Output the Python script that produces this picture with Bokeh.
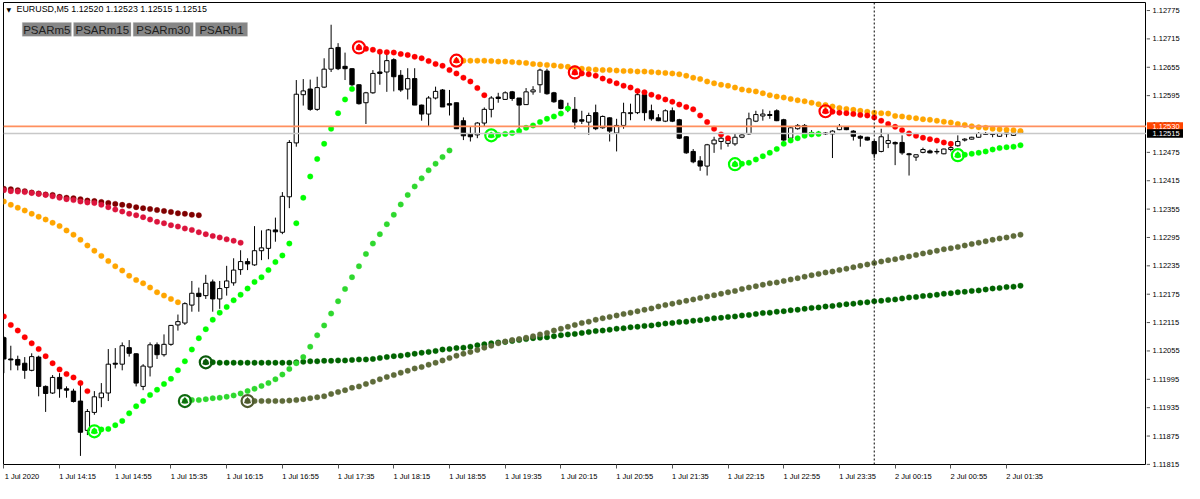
from bokeh.plotting import figure
from bokeh.layouts import row
from bokeh.models import (Range1d, FixedTicker, Span, Label,
                          BoxAnnotation, ColumnDataSource, LinearAxis)
from bokeh.core.properties import value
from bokeh.embed import file_html
from bokeh.resources import INLINE

# ---------------- data (EURUSD M5, bars from 1 Jul 13:35) ----------------
open_ = [1.12083, 1.12038, 1.12037, 1.12029, 1.12014, 1.12042, 1.11980, 1.11966, 1.11999, 1.11975,
 1.11970, 1.11949, 1.11887, 1.11925, 1.11956, 1.11966, 1.12029, 1.12027, 1.12062, 1.12049,
 1.11980, 1.12021, 1.12068, 1.12047, 1.12069, 1.12110, 1.12114, 1.12152, 1.12177, 1.12172,
 1.12201, 1.12165, 1.12189, 1.12199, 1.12227, 1.12244, 1.12237, 1.12267, 1.12272, 1.12311,
 1.12306, 1.12381, 1.12495, 1.12597, 1.12609, 1.12566, 1.12613, 1.12651, 1.12697, 1.12657,
 1.12652, 1.12618, 1.12580, 1.12601, 1.12645, 1.12645, 1.12671, 1.12638, 1.12609, 1.12631,
 1.12575, 1.12556, 1.12590, 1.12607, 1.12578, 1.12580, 1.12542, 1.12514, 1.12512, 1.12537,
 1.12566, 1.12592, 1.12587, 1.12603, 1.12590, 1.12576, 1.12603, 1.12618, 1.12647, 1.12601,
 1.12585, 1.12568, 1.12566, 1.12544, 1.12539, 1.12559, 1.12527, 1.12548, 1.12516, 1.12532,
 1.12557, 1.12559, 1.12597, 1.12563, 1.12548, 1.12541, 1.12563, 1.12544, 1.12508, 1.12477,
 1.12457, 1.12446, 1.12493, 1.12498, 1.12494, 1.12493, 1.12507, 1.12514, 1.12541, 1.12552,
 1.12555, 1.12563, 1.12544, 1.12505, 1.12525, 1.12532, 1.12517, 1.12516, 1.12516, 1.12514,
 1.12523, 1.12529, 1.12520, 1.12509, 1.12507, 1.12498, 1.12477, 1.12494, 1.12496, 1.12496,
 1.12472, 1.12465, 1.12475, 1.12478, 1.12477, 1.12472, 1.12481, 1.12489, 1.12501, 1.12503,
 1.12507, 1.12515, 1.12514, 1.12509, 1.12516, 1.12511, 1.12520]

high = [1.12086, 1.12066, 1.12045, 1.12042, 1.12050, 1.12045, 1.11982, 1.12004, 1.12008, 1.11980,
 1.11975, 1.11990, 1.11932, 1.11970, 1.11987, 1.12059, 1.12061, 1.12073, 1.12078, 1.12050,
 1.12027, 1.12073, 1.12073, 1.12090, 1.12110, 1.12132, 1.12158, 1.12203, 1.12189, 1.12216,
 1.12206, 1.12203, 1.12235, 1.12251, 1.12268, 1.12251, 1.12319, 1.12310, 1.12313, 1.12337,
 1.12391, 1.12501, 1.12628, 1.12630, 1.12629, 1.12635, 1.12674, 1.12745, 1.12706, 1.12686,
 1.12653, 1.12619, 1.12603, 1.12649, 1.12686, 1.12683, 1.12674, 1.12649, 1.12653, 1.12653,
 1.12576, 1.12594, 1.12614, 1.12609, 1.12607, 1.12580, 1.12549, 1.12529, 1.12539, 1.12570,
 1.12594, 1.12601, 1.12604, 1.12605, 1.12590, 1.12611, 1.12615, 1.12652, 1.12652, 1.12603,
 1.12587, 1.12580, 1.12592, 1.12563, 1.12559, 1.12576, 1.12553, 1.12549, 1.12546, 1.12580,
 1.12578, 1.12604, 1.12599, 1.12576, 1.12556, 1.12566, 1.12570, 1.12546, 1.12509, 1.12482,
 1.12467, 1.12493, 1.12508, 1.12515, 1.12508, 1.12514, 1.12515, 1.12559, 1.12563, 1.12566,
 1.12563, 1.12566, 1.12546, 1.12530, 1.12535, 1.12535, 1.12522, 1.12520, 1.12518, 1.12522,
 1.12535, 1.12530, 1.12522, 1.12511, 1.12508, 1.12501, 1.12525, 1.12514, 1.12498, 1.12511,
 1.12474, 1.12470, 1.12485, 1.12481, 1.12483, 1.12483, 1.12489, 1.12511, 1.12505, 1.12508,
 1.12518, 1.12518, 1.12514, 1.12516, 1.12516, 1.12518, 1.12523]

low = [1.12008, 1.12014, 1.12014, 1.11996, 1.12012, 1.11959, 1.11926, 1.11964, 1.11956, 1.11956,
 1.11946, 1.11833, 1.11877, 1.11920, 1.11936, 1.11949, 1.12018, 1.12014, 1.12043, 1.11980,
 1.11972, 1.12001, 1.12038, 1.12043, 1.12066, 1.12098, 1.12110, 1.12138, 1.12138, 1.12165,
 1.12138, 1.12144, 1.12172, 1.12193, 1.12216, 1.12226, 1.12235, 1.12247, 1.12249, 1.12286,
 1.12302, 1.12357, 1.12487, 1.12574, 1.12563, 1.12563, 1.12611, 1.12645, 1.12649, 1.12628,
 1.12615, 1.12576, 1.12535, 1.12599, 1.12618, 1.12603, 1.12604, 1.12603, 1.12587, 1.12575,
 1.12542, 1.12530, 1.12587, 1.12571, 1.12553, 1.12525, 1.12501, 1.12498, 1.12505, 1.12529,
 1.12549, 1.12580, 1.12586, 1.12584, 1.12518, 1.12576, 1.12597, 1.12601, 1.12597, 1.12580,
 1.12566, 1.12560, 1.12525, 1.12535, 1.12512, 1.12522, 1.12525, 1.12498, 1.12477, 1.12525,
 1.12543, 1.12556, 1.12542, 1.12542, 1.12541, 1.12539, 1.12539, 1.12503, 1.12472, 1.12452,
 1.12436, 1.12426, 1.12474, 1.12481, 1.12487, 1.12489, 1.12505, 1.12512, 1.12539, 1.12542,
 1.12546, 1.12541, 1.12498, 1.12501, 1.12523, 1.12508, 1.12510, 1.12510, 1.12512, 1.12463,
 1.12522, 1.12522, 1.12500, 1.12487, 1.12500, 1.12463, 1.12475, 1.12484, 1.12448, 1.12470,
 1.12426, 1.12457, 1.12473, 1.12473, 1.12471, 1.12471, 1.12477, 1.12487, 1.12498, 1.12502,
 1.12506, 1.12512, 1.12507, 1.12508, 1.12507, 1.12510, 1.12515]

close = [1.12038, 1.12036, 1.12025, 1.12014, 1.12043, 1.11980, 1.11965, 1.11999, 1.11975, 1.11972,
 1.11948, 1.11883, 1.11927, 1.11958, 1.11966, 1.12027, 1.12027, 1.12066, 1.12050, 1.11987,
 1.12023, 1.12068, 1.12047, 1.12069, 1.12109, 1.12117, 1.12155, 1.12177, 1.12170, 1.12198,
 1.12165, 1.12187, 1.12203, 1.12226, 1.12244, 1.12239, 1.12267, 1.12273, 1.12311, 1.12307,
 1.12382, 1.12496, 1.12598, 1.12605, 1.12566, 1.12612, 1.12651, 1.12695, 1.12652, 1.12652,
 1.12618, 1.12578, 1.12601, 1.12642, 1.12642, 1.12669, 1.12635, 1.12607, 1.12631, 1.12575,
 1.12556, 1.12590, 1.12604, 1.12571, 1.12575, 1.12525, 1.12510, 1.12508, 1.12537, 1.12566,
 1.12590, 1.12589, 1.12601, 1.12589, 1.12575, 1.12603, 1.12607, 1.12649, 1.12599, 1.12582,
 1.12568, 1.12570, 1.12539, 1.12541, 1.12553, 1.12525, 1.12551, 1.12520, 1.12532, 1.12559,
 1.12559, 1.12597, 1.12559, 1.12546, 1.12542, 1.12563, 1.12541, 1.12505, 1.12474, 1.12455,
 1.12446, 1.12491, 1.12501, 1.12505, 1.12500, 1.12507, 1.12512, 1.12546, 1.12555, 1.12556,
 1.12553, 1.12542, 1.12501, 1.12527, 1.12532, 1.12512, 1.12514, 1.12514, 1.12514, 1.12520,
 1.12530, 1.12523, 1.12509, 1.12505, 1.12501, 1.12472, 1.12508, 1.12500, 1.12493, 1.12474,
 1.12470, 1.12470, 1.12481, 1.12474, 1.12476, 1.12482, 1.12485, 1.12498, 1.12503, 1.12507,
 1.12515, 1.12513, 1.12513, 1.12515, 1.12514, 1.12516, 1.12515]

# Parabolic SAR values (one dot per M5 bar) and trend runs
psar_m5 = [1.12128, 1.12110, 1.12098, 1.12084, 1.12071, 1.12059, 1.12044, 1.12029, 1.12016, 1.12006, 1.11999, 1.11987, 1.11970,
 1.11885, 1.11889, 1.11890, 1.11898, 1.11907, 1.11923, 1.11938, 1.11949, 1.11962, 1.11973, 1.11985, 1.11996, 1.12014, 1.12033,
 1.12058, 1.12082, 1.12101, 1.12121, 1.12136, 1.12148, 1.12162, 1.12174, 1.12187, 1.12201, 1.12211, 1.12226, 1.12243, 1.12257,
 1.12282, 1.12325, 1.12379, 1.12424, 1.12461, 1.12493, 1.12525, 1.12558, 1.12587, 1.12609,
 1.12697, 1.12694, 1.12692, 1.12688, 1.12687, 1.12686, 1.12683, 1.12681, 1.12677, 1.12674, 1.12668, 1.12662, 1.12658, 1.12649,
 1.12642, 1.12633, 1.12625, 1.12611, 1.12596,
 1.12511, 1.12512, 1.12514, 1.12516, 1.12520, 1.12527, 1.12532, 1.12539, 1.12546, 1.12551, 1.12557, 1.12568,
 1.12644, 1.12642, 1.12640, 1.12637, 1.12631, 1.12626, 1.12621, 1.12616, 1.12612, 1.12605, 1.12602, 1.12597, 1.12592, 1.12587,
 1.12582, 1.12576, 1.12571, 1.12566, 1.12553, 1.12539, 1.12525, 1.12513, 1.12505,
 1.12450, 1.12451, 1.12453, 1.12460, 1.12467, 1.12474, 1.12482, 1.12493, 1.12500, 1.12505, 1.12510, 1.12513, 1.12514,
 1.12562, 1.12561, 1.12559, 1.12558, 1.12556, 1.12554, 1.12553, 1.12549, 1.12542, 1.12535, 1.12529, 1.12522, 1.12515, 1.12510,
 1.12506, 1.12503, 1.12500, 1.12496, 1.12493,
 1.12469, 1.12470, 1.12472, 1.12474, 1.12477, 1.12481, 1.12484, 1.12486, 1.12487, 1.12490]
runs_m5 = [("down", 13), ("up", 38), ("down", 19), ("up", 12), ("down", 23), ("up", 13), ("down", 19), ("up", 10)]

psar_m15 = [1.12371, 1.12364, 1.12358, 1.12352, 1.12345, 1.12339, 1.12333, 1.12326, 1.12319, 1.12310, 1.12301, 1.12290, 1.12278,
 1.12267, 1.12256, 1.12245, 1.12234, 1.12225, 1.12214, 1.12205, 1.12198, 1.12189, 1.12179, 1.12172, 1.12165, 1.12158,
 1.11949, 1.11951, 1.11951, 1.11953, 1.11955, 1.11956, 1.11958, 1.11961, 1.11965, 1.11970, 1.11975, 1.11981, 1.11987, 1.11995,
 1.12005, 1.12017, 1.12029, 1.12042, 1.12064, 1.12088, 1.12109, 1.12134, 1.12160, 1.12186, 1.12211, 1.12234, 1.12260, 1.12282,
 1.12302, 1.12323, 1.12343, 1.12365, 1.12385, 1.12403, 1.12420, 1.12437, 1.12451, 1.12465, 1.12479,
 1.12669, 1.12669, 1.12669, 1.12669, 1.12669, 1.12668, 1.12667, 1.12667, 1.12666, 1.12665, 1.12664, 1.12662, 1.12661, 1.12660,
 1.12659, 1.12657, 1.12656, 1.12653, 1.12652, 1.12651, 1.12650, 1.12649, 1.12649, 1.12648, 1.12647, 1.12647, 1.12646, 1.12646,
 1.12645, 1.12644, 1.12643, 1.12642, 1.12640, 1.12637, 1.12633, 1.12630, 1.12625, 1.12621, 1.12618, 1.12616, 1.12612, 1.12608,
 1.12606, 1.12604, 1.12600, 1.12596, 1.12593, 1.12591, 1.12588, 1.12585, 1.12583, 1.12580, 1.12577, 1.12575, 1.12572, 1.12569,
 1.12567, 1.12565, 1.12563, 1.12561, 1.12559, 1.12558, 1.12557, 1.12552, 1.12551, 1.12549, 1.12547, 1.12545, 1.12544, 1.12542,
 1.12540, 1.12538, 1.12535, 1.12533, 1.12530, 1.12528, 1.12527, 1.12525, 1.12524, 1.12523, 1.12522, 1.12520]
runs_m15 = [("down", 26), ("up", 39), ("down", 82)]

psar_m30 = [1.12395, 1.12393, 1.12392, 1.12391, 1.12389, 1.12387, 1.12385, 1.12382, 1.12379, 1.12376, 1.12374, 1.12371, 1.12369,
 1.12368, 1.12364, 1.12359, 1.12354, 1.12350, 1.12345, 1.12342, 1.12338, 1.12333, 1.12328, 1.12325, 1.12321, 1.12318, 1.12314,
 1.12311, 1.12306, 1.12302, 1.12298, 1.12295, 1.12291, 1.12288, 1.12284,
 1.11949, 1.11949, 1.11949, 1.11949, 1.11949, 1.11949, 1.11950, 1.11951, 1.11953, 1.11955, 1.11957, 1.11959, 1.11964, 1.11968,
 1.11972, 1.11977, 1.11980, 1.11985, 1.11990, 1.11995, 1.12000, 1.12004, 1.12009, 1.12013, 1.12018, 1.12021, 1.12026, 1.12030,
 1.12035, 1.12040, 1.12045, 1.12049, 1.12053, 1.12057, 1.12062, 1.12066, 1.12071, 1.12075, 1.12078, 1.12080, 1.12083, 1.12086,
 1.12090, 1.12093, 1.12098, 1.12102, 1.12106, 1.12110, 1.12114, 1.12117, 1.12121,
 1.12124, 1.12127, 1.12130, 1.12133, 1.12136, 1.12139, 1.12142, 1.12145, 1.12149, 1.12152, 1.12155, 1.12158, 1.12161, 1.12164,
 1.12167, 1.12170, 1.12173, 1.12176, 1.12179, 1.12182, 1.12186, 1.12189, 1.12192, 1.12195, 1.12198, 1.12200, 1.12203, 1.12206,
 1.12209, 1.12212, 1.12215, 1.12218, 1.12221, 1.12223, 1.12226, 1.12229, 1.12232, 1.12235, 1.12238, 1.12241, 1.12244, 1.12247,
 1.12249, 1.12252, 1.12255, 1.12258, 1.12261, 1.12264, 1.12267, 1.12270, 1.12272, 1.12275, 1.12278, 1.12281, 1.12284, 1.12287,
 1.12290, 1.12293, 1.12295, 1.12298, 1.12301]
runs_m30 = [("down", 35), ("up", 112)]

psar_h1 = [1.12398, 1.12397, 1.12395, 1.12393, 1.12390, 1.12388, 1.12386, 1.12385, 1.12381, 1.12379, 1.12378, 1.12376, 1.12373,
 1.12372, 1.12370, 1.12368, 1.12366, 1.12364, 1.12362, 1.12359, 1.12357, 1.12355, 1.12353, 1.12351, 1.12349, 1.12346, 1.12345,
 1.12343, 1.12342,
 1.12031, 1.12031, 1.12030, 1.12030, 1.12030, 1.12030, 1.12030, 1.12030, 1.12030, 1.12030, 1.12030, 1.12030, 1.12030,
 1.12031, 1.12032, 1.12033, 1.12033, 1.12034, 1.12034, 1.12035, 1.12035, 1.12036, 1.12037, 1.12037, 1.12038, 1.12040, 1.12042,
 1.12044, 1.12045, 1.12047, 1.12049, 1.12051, 1.12053, 1.12055, 1.12058, 1.12059, 1.12061, 1.12062, 1.12064, 1.12067, 1.12069,
 1.12071, 1.12073, 1.12074, 1.12076, 1.12078, 1.12080, 1.12082, 1.12083, 1.12084, 1.12086, 1.12088, 1.12090, 1.12091, 1.12093,
 1.12095, 1.12097,
 1.12098, 1.12100, 1.12102, 1.12103, 1.12105, 1.12106, 1.12108, 1.12109, 1.12111, 1.12113, 1.12114, 1.12116, 1.12117, 1.12119,
 1.12120, 1.12122, 1.12124, 1.12125, 1.12127, 1.12128, 1.12130, 1.12131, 1.12133, 1.12135, 1.12136, 1.12138, 1.12139, 1.12141,
 1.12142, 1.12144, 1.12146, 1.12147, 1.12149, 1.12150, 1.12152, 1.12154, 1.12155, 1.12157, 1.12158, 1.12160, 1.12161, 1.12163,
 1.12164, 1.12166, 1.12168, 1.12169, 1.12171, 1.12172, 1.12174, 1.12176, 1.12177, 1.12179, 1.12180, 1.12182, 1.12183, 1.12185,
 1.12187, 1.12188, 1.12190, 1.12191, 1.12193]
runs_h1 = [("down", 29), ("up", 118)]

tick_bars = [0, 8, 16, 24, 32, 40, 48, 56, 64, 72, 80, 88, 96, 104, 112, 120, 128, 136, 144]
tick_labels = ["1 Jul 2020", "1 Jul 14:15", "1 Jul 14:55", "1 Jul 15:35", "1 Jul 16:15", "1 Jul 16:55",
               "1 Jul 17:35", "1 Jul 18:15", "1 Jul 18:55", "1 Jul 19:35", "1 Jul 20:15", "1 Jul 20:55",
               "1 Jul 21:35", "1 Jul 22:15", "1 Jul 22:55", "1 Jul 23:35", "2 Jul 00:15", "2 Jul 00:55",
               "2 Jul 01:35"]
price_ticks = [1.11815, 1.11875, 1.11935, 1.11995, 1.12055, 1.12115, 1.12175, 1.12235, 1.12295,
               1.12355, 1.12415, 1.12475, 1.12535, 1.12595, 1.12655, 1.12715, 1.12775]
day_break_bar = 125
ask, bid = 1.12530, 1.12515
header = "EURUSD,M5  1.12520 1.12523 1.12515 1.12515"
buttons = ["PSARm5", "PSARm15", "PSARm30", "PSARh1"]

# ---------------- main chart ----------------
FW, FH = 1143, 462
X0, X1 = -0.05, 164.1
Y0, Y1 = 1.118148, 1.12792
LABEL_SHIFT = 2.6
AX_FONT = "Liberation Sans"

p = figure(frame_width=FW, frame_height=FH,
           x_range=Range1d(X0, X1), y_range=Range1d(Y0, Y1),
           output_backend="svg", toolbar_location=None,
           x_axis_location=None, y_axis_location=None,
           min_border_left=3, min_border_top=2, min_border_right=0, min_border_bottom=0,
           background_fill_color="white", border_fill_color="white")
p.grid.visible = False
p.outline_line_color = "black"
p.outline_line_width = 1

# time axis: labels start at their tick (MT4 style); tick marks drawn as minor ticks
p.extra_x_ranges = {"lab": Range1d(X0 - LABEL_SHIFT, X1 - LABEL_SHIFT)}
la = LinearAxis(x_range_name="lab",
                ticker=FixedTicker(ticks=tick_bars,
                                   minor_ticks=[t - LABEL_SHIFT for t in tick_bars]),
                major_label_overrides={t: s for t, s in zip(tick_bars, tick_labels)})
la.major_label_text_font = AX_FONT
la.major_label_text_font_size = "7.5px"
la.major_label_text_color = "black"
la.major_label_standoff = 3
la.major_tick_out = 0
la.major_tick_in = 0
la.minor_tick_out = 4
la.minor_tick_in = 0
la.minor_tick_line_color = "#555555"
la.axis_line_color = None
p.add_layout(la, "below")

# price lines and day separator
p.add_layout(Span(location=bid, dimension="width", line_color="#C8C8C8", line_width=1.5))
p.add_layout(Span(location=ask, dimension="width", line_color="#FF8F5E", line_width=1.6))
p.add_layout(Span(location=day_break_bar, dimension="height", line_color="black",
                  line_width=1, line_dash="2 2"))

# candles
bars = list(range(len(close)))
src = ColumnDataSource(dict(
    x=bars, high=high, low=low,
    top=[max(o, c) for o, c in zip(open_, close)],
    bottom=[min(o, c) for o, c in zip(open_, close)],
    fill=["white" if c >= o else "black" for o, c in zip(open_, close)],
))
p.segment(x0="x", y0="high", x1="x", y1="low", source=src, line_color="black", line_width=1)
p.vbar(x="x", width=0.62, top="top", bottom="bottom", source=src,
       fill_color="fill", line_color="black", line_width=1)


def draw_psar(values, runs, up_color, down_color, up_arrow, down_arrow):
    xs, cols = [], []
    ax, ay, ac = [], [], []
    i = 0
    for k, (d, n) in enumerate(runs):
        col = up_color if d == "up" else down_color
        if k > 0:
            ax.append(i)
            ay.append(values[i])
            ac.append(up_arrow if d == "up" else down_arrow)
        for j in range(i, i + n):
            xs.append(j)
            cols.append(col)
        i += n
    s = ColumnDataSource(dict(x=xs, y=values, c=cols))
    p.scatter(x="x", y="y", source=s, size=5.5, fill_color="c", line_color="c",
              line_width=0.3, marker="circle")
    if ax:
        a = ColumnDataSource(dict(x=ax, y=ay, c=ac))
        p.scatter(x="x", y="y", source=a, size=12, marker="circle", fill_color=None,
                  line_color="c", line_width=2.2)
        p.scatter(x="x", y="y", source=a, size=6, marker="triangle", fill_color="c",
                  line_color="c")


draw_psar(psar_h1, runs_h1, "#006400", "#800000", "#0B5A0B", "#FF0000")
draw_psar(psar_m30, runs_m30, "#5E6B3A", "#DC143C", "#4E5A2E", "#FF0000")
draw_psar(psar_m15, runs_m15, "#2ED82E", "#FFA500", "#0F6A0F", "#FF0000")
draw_psar(psar_m5, runs_m5, "#00FF00", "#FF0000", "#00FF00", "#FF0000")

# header and indicator buttons
p.add_layout(Label(x=3, y=FH - 6.5, x_units="screen", y_units="screen", text="\u25BC",
                   text_font="DejaVu Sans", text_font_size="6px", text_baseline="middle",
                   text_color="black"))
p.add_layout(Label(x=13, y=FH - 6.5, x_units="screen", y_units="screen", text=header,
                   text_font=AX_FONT, text_font_size="8.9px", text_baseline="middle",
                   text_color="black"))
btn_edges = [(18.8, 67.9), (70.1, 127.5), (129.7, 189.7), (192.0, 244.0)]
for (l, r), name in zip(btn_edges, buttons):
    p.add_layout(BoxAnnotation(left=l, right=r, top=FH - 20.1, bottom=FH - 33.8,
                               left_units="screen", right_units="screen",
                               top_units="screen", bottom_units="screen",
                               fill_color="#868686", fill_alpha=1.0,
                               line_color="#B4B4B4", line_width=1))
    p.add_layout(Label(x=(l + r) / 2, y=FH - 27.0, x_units="screen", y_units="screen",
                       text=name, text_font="Liberation Sans", text_font_size="11.5px",
                       text_align="center", text_baseline="middle", text_color="#1E1E1E"))

# ---------------- price scale (right strip, same vertical scale) ----------------
QW, QEXT = 37, 14
ppx = (Y1 - Y0) / FH
q = figure(frame_width=QW, frame_height=FH + QEXT,
           x_range=Range1d(0, QW), y_range=Range1d(Y0 - QEXT * ppx, Y1),
           output_backend="svg", toolbar_location=None,
           x_axis_location=None, y_axis_location=None,
           min_border_left=0, min_border_top=2, min_border_right=0, min_border_bottom=0,
           background_fill_color="white", border_fill_color="white")
q.grid.visible = False
q.outline_line_color = None
q.segment(x0=[0] * len(price_ticks), y0=price_ticks, x1=[3.5] * len(price_ticks), y1=price_ticks,
          line_color="#555555", line_width=1)
q.text(x=[6] * len(price_ticks), y=price_ticks, text=[f"{t:.5f}" for t in price_ticks],
       text_font=value(AX_FONT), text_font_size=value("7.5px"), text_color="black",
       text_baseline="middle", text_align="left")
tags = [ask, bid]
q.quad(left=[0.5, 0.5], right=[QW - 0.5, QW - 0.5],
       top=[v + 4.2 * ppx for v in tags], bottom=[v - 4.2 * ppx for v in tags],
       fill_color=["#FF4500", "black"], line_color=None)
q.text(x=[6, 6], y=tags, text=[f"{v:.5f}" for v in tags],
       text_font=value(AX_FONT), text_font_size=value("7.5px"), text_color="white",
       text_baseline="middle", text_align="left")

open("out.html", "w").write(file_html(row(p, q), INLINE))
